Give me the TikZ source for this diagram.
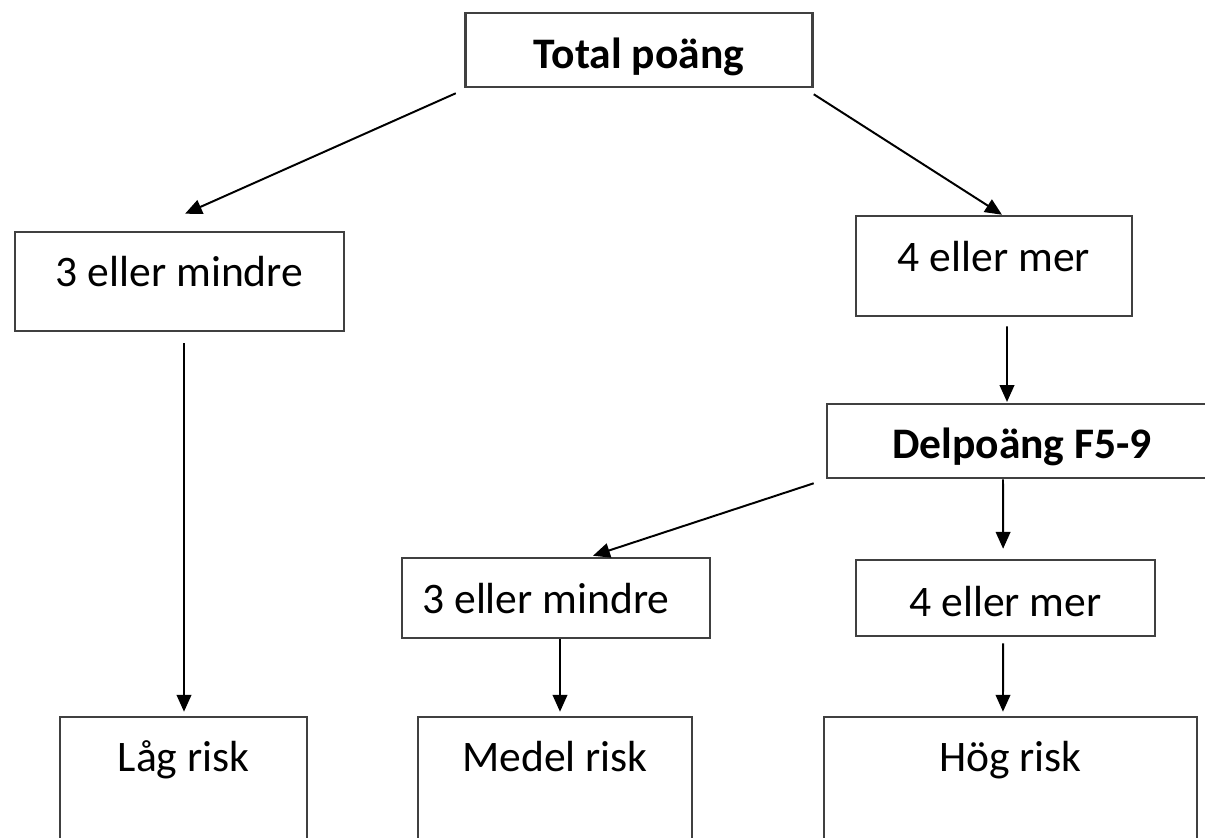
\documentclass[tikz,border=0pt]{standalone}
\usepackage{fontspec}
\setmainfont{Carlito}
\usetikzlibrary{arrows.meta,positioning}

\begin{document}
\begin{tikzpicture}[->,>={Triangle[length=6pt,width=5.2pt]},line width=0.7pt,
    every node/.style={font=\fontsize{15.5}{18}\selectfont},
    scorebox/.style n args={3}{draw=black!75,line width=0.9pt,inner sep=0pt,minimum width=#1,text height=#2,text depth=#3}]
\useasboundingbox (0,0) rectangle (15.0625,-10.475);
\node[scorebox={4.3375cm}{0.6875cm}{0.2375cm}] at (7.9875,-0.625) (total) {\textbf{Total poäng}};
        \node[scorebox={4.1125cm}{0.675cm}{0.5625cm}] at (2.244,-3.519) (less_1) {3 eller mindre};
        \node[scorebox={3.45cm}{0.6875cm}{0.5625cm}] at (12.425,-3.325) (more_1) {4 eller mer};
        \node[scorebox={4.875cm}{0.675cm}{0.25cm}] at (12.775,-5.5125) (delp) {\textbf{Delpoäng F5-9}};
        \node[scorebox={3.85cm}{0.6875cm}{0.3125cm}] at (6.95,-7.475) (less_2) {3 eller mindre\hspace*{0.25cm}};
        \node[scorebox={3.7375cm}{0.7cm}{0.25cm}] at (12.569,-7.475) (more_2) {4 eller mer};
        \node[scorebox={3.0875cm}{0.6875cm}{1.5cm}] at (2.294,-10.056) (low) {Låg risk};
        \node[scorebox={3.425cm}{0.6875cm}{1.5cm}] at (6.9375,-10.056) (mid) {Medel risk};
        \node[scorebox={4.6625cm}{0.6875cm}{1.5cm}] at (12.631,-10.056) (high) {Hög risk};
        \draw ([shift={(-0.106,-0.0625)}]total.south west) -- ([shift={(0.069,0.2125)}]less_1.north);
        \draw ([shift={(0,-0.075)}]total.south east) -- ([shift={(0.1,0)}]more_1.north);
        \draw ([shift={(0.1625,-0.1125)}]more_1.south) -- ([shift={(-0.1875,0.01)}]delp.north);
        \draw ([shift={(0.056,-0.1375)}]less_1.south) -- ([shift={(0.006,0.05)}]low.north);
        \draw ([shift={(-0.15,-0.05)}]delp.south west) -- ([shift={(0.4625,0.0125)}]less_2.north);
        \draw ([shift={(-0.2375,0)}]delp.south) -- ([shift={(-0.03,0.125)}]more_2.north);
        \draw ([shift={(0.05,0)}]less_2.south) -- ([shift={(0.0625,0.05)}]mid.north);
        \draw ([shift={(-0.03,-0.075)}]more_2.south) -- ([shift={(-0.094,0.05)}]high.north);
\end{tikzpicture}
\end{document}
